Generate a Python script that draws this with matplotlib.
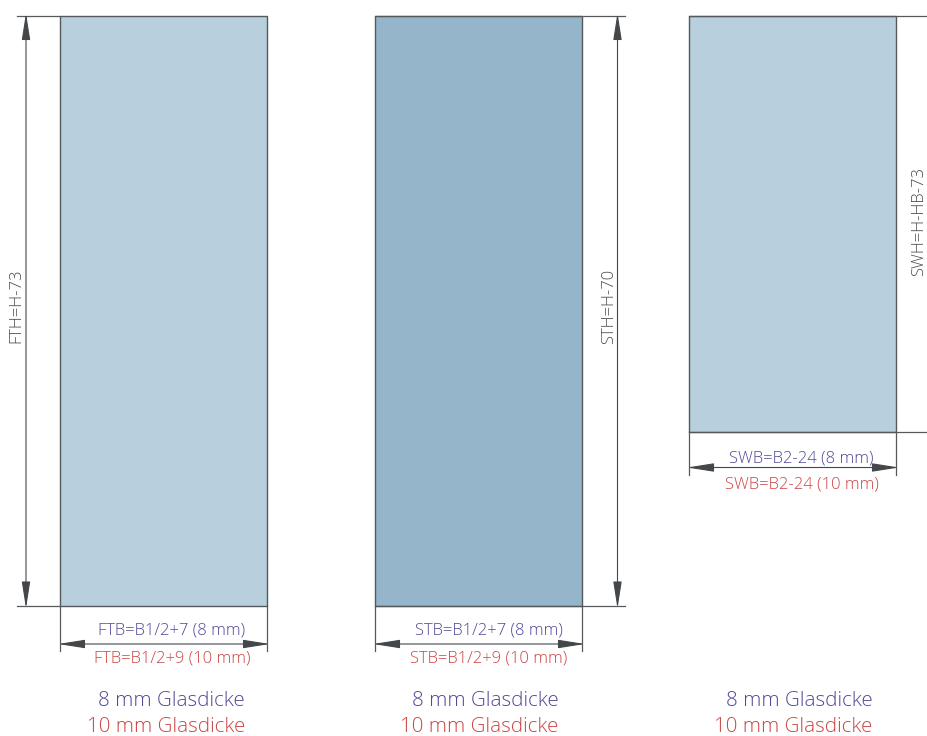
import matplotlib
matplotlib.use('Agg')
import matplotlib.pyplot as plt
from matplotlib.patches import Rectangle

plt.rcParams['font.family'] = ['Open Sans', 'DejaVu Sans']
plt.rcParams['font.weight'] = 'light'

# panel geometry in pixels
panel_left = [60.5, 375.5, 689.5]
panel_right = [267.5, 582.5, 896.5]
panel_top = [15.5, 15.5, 15.5]
panel_bottom = [606, 606, 431.5]
panel_colors = ['#b8cfdd', '#95b6ca', '#b8cfdd']

height_labels = ['FTH=H-73', 'STH=H-70', 'SWH=H-HB-73']
width_labels_8 = ['FTB=B1/2+7 (8 mm)', 'STB=B1/2+7 (8 mm)', 'SWB=B2-24 (8 mm)']
width_labels_10 = ['FTB=B1/2+9 (10 mm)', 'STB=B1/2+9 (10 mm)', 'SWB=B2-24 (10 mm)']
legend_8 = '8 mm Glasdicke'
legend_10 = '10 mm Glasdicke'

# where the dimension lines and their labels sit
height_line_x = [26, 617.5, None]
height_text_x = [16, 609, 919]
height_text_y = [306, 306, 221]
ext_from = [17, 375.5, 689.5]
ext_to = [60.5, 625, 927]
width_arrow_y = [644, 644, 467.5]
width_tick_end = [651, 651, 475]
width_text_y_8 = [630.5, 630.5, 458.5]
width_text_y_10 = [658.5, 658.5, 484.5]
width_text_right_8 = [245, 562.5, 874]
width_text_right_10 = [250.5, 567.5, 879]
legend_right = [245, 558.5, 872.5]
legend_y_8 = 701
legend_y_10 = 726.5

LINE = '#4a4e51'
EDGE = '#55595c'
ARROW = '#44474a'
BLUE = '#4f4996'
RED = '#cc4443'


def dim_arrow(ax, p0, p1):
    ax.annotate('', xy=p1, xytext=p0,
                arrowprops=dict(arrowstyle='<|-|>,head_length=16.5,head_width=2.6', mutation_scale=1,
                                shrinkA=0, shrinkB=0, lw=0.8, color=ARROW))


def main():
    fig = plt.figure(figsize=(9.27, 7.36), dpi=100)
    ax = fig.add_axes([0, 0, 1, 1])
    ax.set_xlim(0, 927)
    ax.set_ylim(736, 0)
    ax.axis('off')

    for i in range(3):
        x0, x1 = panel_left[i], panel_right[i]
        y0, y1 = panel_top[i], panel_bottom[i]
        ax.add_patch(Rectangle((x0, y0), x1 - x0, y1 - y0, facecolor=panel_colors[i],
                               edgecolor=EDGE, lw=1.0))

        # extension lines at top and bottom of the panel
        ax.plot([ext_from[i], ext_to[i]], [y0, y0], color=EDGE, lw=0.9)
        ax.plot([ext_from[i], ext_to[i]], [y1, y1], color=EDGE, lw=0.9)

        # height dimension, the tips overshoot so they reach the extension lines
        if height_line_x[i] is not None:
            dim_arrow(ax, (height_line_x[i], y0 - 2.5), (height_line_x[i], y1 + 2.5))
        ax.text(height_text_x[i], height_text_y[i], height_labels[i], rotation=90,
                ha='center', va='center', fontsize=12, color=LINE)

        # width dimension below the panel
        ax.plot([x0, x0], [y1, width_tick_end[i]], color=EDGE, lw=0.9)
        ax.plot([x1, x1], [y1, width_tick_end[i]], color=EDGE, lw=0.9)
        dim_arrow(ax, (x0 - 2.5, width_arrow_y[i]), (x1 + 2.5, width_arrow_y[i]))
        ax.text(width_text_right_8[i], width_text_y_8[i], width_labels_8[i], ha='right', va='center',
                fontsize=12, color=BLUE)
        ax.text(width_text_right_10[i], width_text_y_10[i], width_labels_10[i], ha='right', va='center',
                fontsize=12, color=RED)

        # glass thickness legend under each column
        ax.text(legend_right[i], legend_y_8, legend_8, ha='right', va='center', fontsize=14.8, color=BLUE)
        ax.text(legend_right[i], legend_y_10, legend_10, ha='right', va='center', fontsize=14.8, color=RED)

    fig.savefig('out.png', dpi=100)


if __name__ == '__main__':
    main()
